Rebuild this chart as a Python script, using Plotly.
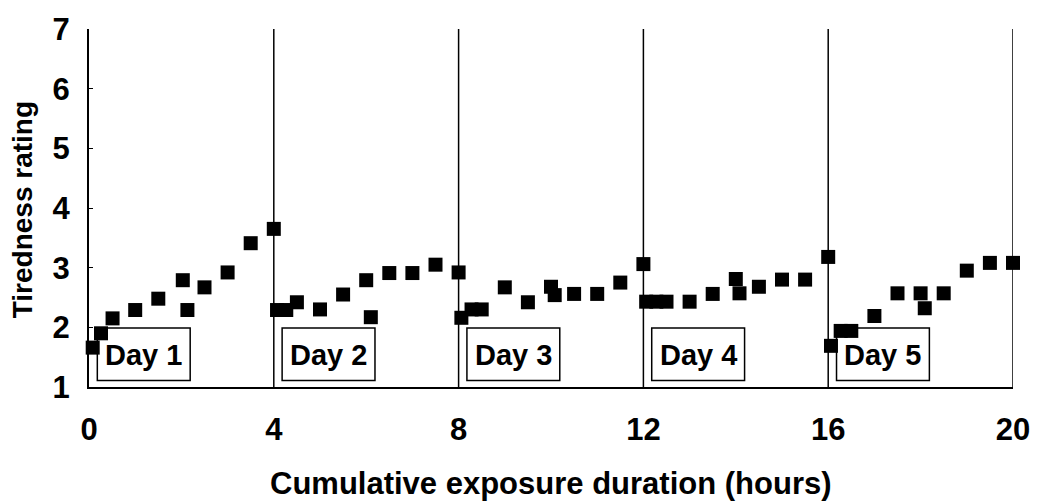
import plotly.graph_objects as go

# Tiredness ratings over five 4-hour exposure days
day1_hours = [0.08, 0.26, 0.51, 1.0, 1.5, 2.03, 2.13, 2.5, 3.0, 3.5, 4.0]
day1_rating = [1.66, 1.90, 2.15, 2.29, 2.48, 2.79, 2.29, 2.67, 2.92, 3.41, 3.65]

day2_hours = [4.07, 4.27, 4.5, 5.0, 5.5, 6.0, 6.1, 6.5, 7.0, 7.5, 8.0]
day2_rating = [2.29, 2.29, 2.42, 2.30, 2.55, 2.79, 2.17, 2.91, 2.91, 3.05, 2.92]

day3_hours = [8.06, 8.28, 8.5, 9.0, 9.5, 10.0, 10.08, 10.5, 11.0, 11.5, 12.0]
day3_rating = [2.16, 2.30, 2.30, 2.67, 2.42, 2.68, 2.54, 2.56, 2.56, 2.75, 3.06]

day4_hours = [12.06, 12.28, 12.5, 13.0, 13.5, 14.0, 14.08, 14.5, 15.0, 15.5, 16.0]
day4_rating = [2.43, 2.43, 2.43, 2.43, 2.56, 2.81, 2.57, 2.68, 2.80, 2.80, 3.18]

day5_hours = [16.06, 16.27, 16.5, 17.0, 17.5, 18.0, 18.09, 18.5, 19.0, 19.5, 20.0]
day5_rating = [1.69, 1.94, 1.94, 2.19, 2.57, 2.57, 2.32, 2.57, 2.95, 3.08, 3.08]

day_labels = ["Day 1", "Day 2", "Day 3", "Day 4", "Day 5"]
day_starts = [0, 4, 8, 12, 16]
day_ends = [4, 8, 12, 16, 20]

x_ticks = [0, 4, 8, 12, 16, 20]
y_ticks = [1, 2, 3, 4, 5, 6, 7]

hours = day1_hours + day2_hours + day3_hours + day4_hours + day5_hours
rating = day1_rating + day2_rating + day3_rating + day4_rating + day5_rating

fig = go.Figure()
fig.add_trace(go.Scatter(
    x=hours, y=rating, mode="markers",
    marker=dict(symbol="square", size=14, color="black", line=dict(width=0)),
    cliponaxis=False, showlegend=False,
))

shapes = []
# separators at the end of each day
for end in day_ends:
    shapes.append(dict(type="line", xref="x", yref="y", x0=end, x1=end, y0=1, y1=7,
                       line=dict(color="black", width=1.5), layer="above"))

annotations = []
# framed day labels near the bottom of each day
for start, label in zip(day_starts, day_labels):
    shapes.append(dict(type="rect", xref="x", yref="y", x0=start + 0.18, x1=start + 2.19,
                       y0=1.11, y1=1.99, fillcolor="white",
                       line=dict(color="black", width=1.5), layer="below"))
    annotations.append(dict(x=start + 1.185, y=1.54, xref="x", yref="y", text=label,
                            showarrow=False, xanchor="center", yanchor="middle",
                            font=dict(family="Liberation Sans", size=29, color="black",
                                      weight="bold")))

annotations.append(dict(x=0.5, y=-0.27, xref="paper", yref="paper",
                        text="Cumulative exposure duration (hours)", showarrow=False,
                        xanchor="center", yanchor="middle",
                        font=dict(family="Liberation Sans", size=31, color="black",
                                  weight="bold")))
annotations.append(dict(x=-0.072, y=0.495, xref="paper", yref="paper",
                        text="Tiredness rating", showarrow=False, textangle=-90,
                        xanchor="center", yanchor="middle",
                        font=dict(family="Liberation Sans", size=28, color="black",
                                  weight="bold")))

fig.update_layout(
    width=1042, height=501,
    margin=dict(l=89, r=28, t=19, b=114),
    paper_bgcolor="white", plot_bgcolor="white",
    shapes=shapes, annotations=annotations,
    xaxis=dict(range=[0, 20], tickvals=x_ticks, ticktext=[str(v) for v in x_ticks],
               showgrid=False, zeroline=False, showline=True, linecolor="black",
               linewidth=2, ticks="", ticklabelstandoff=14,
               tickfont=dict(family="Liberation Sans", size=31, color="black",
                             weight="bold")),
    yaxis=dict(range=[1, 7], tickvals=y_ticks, ticktext=[str(v) for v in y_ticks],
               showgrid=False, zeroline=False, showline=True, linecolor="black",
               linewidth=2, ticks="inside", ticklen=4, tickcolor="black",
               ticklabelstandoff=11,
               tickfont=dict(family="Liberation Sans", size=31, color="black",
                             weight="bold")),
)

fig.write_html("out.html")
